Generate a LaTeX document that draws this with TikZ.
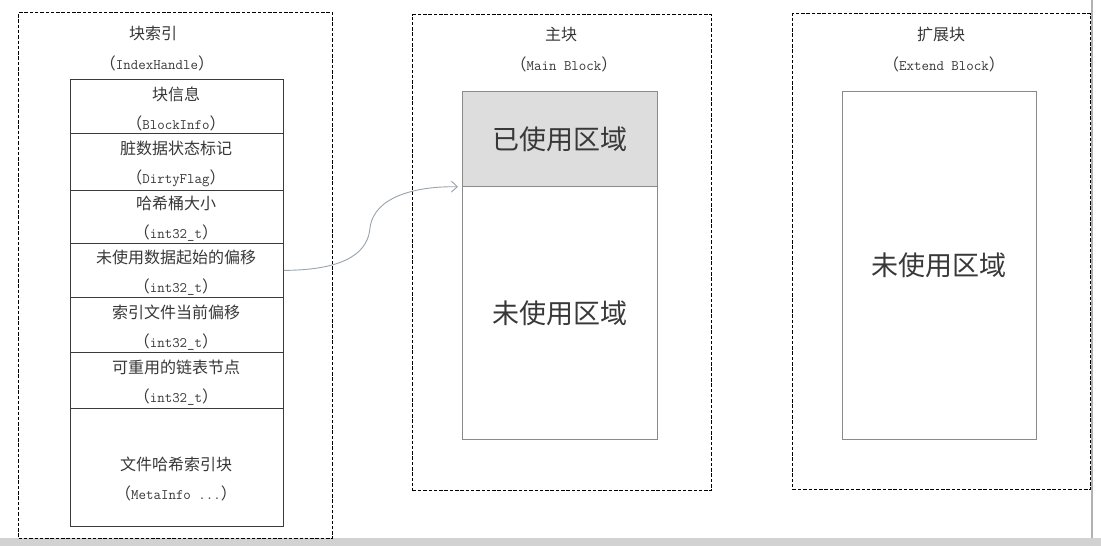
\documentclass[tikz,border=0pt]{standalone}
\usepackage{fontspec}
\newfontfamily\cjk{Noto Sans CJK SC}
\usetikzlibrary{arrows.meta}
\definecolor{txt}{HTML}{383838}
\definecolor{tline}{HTML}{3A3A3A}
\definecolor{iline}{HTML}{8A8A8A}
\definecolor{usedfill}{HTML}{DCDDDC}
\definecolor{arrowc}{HTML}{9AA4AC}
\newcommand\pp[1]{{\cjk （}{\ttfamily\fontsize{14.5}{29}\selectfont #1}{\cjk ）}}
\begin{document}
\begin{tikzpicture}[x=1pt,y=-1pt,
  outerbox/.style={draw=black, dash pattern=on 3.5pt off 1.8pt, line width=1.3pt, anchor=north west, inner sep=0pt},
  title/.style={text=txt, font=\cjk\fontsize{16}{20}\selectfont, inner sep=0pt},
  rowbox/.style={draw=tline, line width=0.8pt, minimum width=213pt, anchor=north west, inner sep=0pt},
  rowtext/.style={inner sep=0pt, align=center, text=txt, font=\cjk\fontsize{16}{29}\selectfont},
  area/.style={draw=iline, line width=0.8pt, minimum width=195pt, anchor=north west, inner sep=0pt},
  bigtext/.style={text=txt, font=\cjk\fontsize{27}{30}\selectfont, inner sep=0pt}]
\useasboundingbox (0,0) rectangle (1101,546);
\fill[white] (0,0) rectangle (1101,546);
% screenshot frame
\fill[gray!35] (0,538) rectangle (1101,546);
\draw[gray!60, line width=1.2pt] (1092,0) -- (1092,538);

% left block: index handle
\node[outerbox, minimum width=314pt, minimum height=526pt] (ibox) at (18,12) {};
\node[title] (ititle) at (153,33) {块索引};
\node[title] (isub) at (157,63) {\pp{IndexHandle}};
\node[rowbox, minimum height=54pt] (r1) at (70,79) {};
\node[rowbox, minimum height=57pt] (r2) at (70,133) {};
\node[rowbox, minimum height=53pt] (r3) at (70,190) {};
\node[rowbox, minimum height=54pt] (r4) at (70,243) {};
\node[rowbox, minimum height=55pt] (r5) at (70,297) {};
\node[rowbox, minimum height=56pt] (r6) at (70,352) {};
\node[rowbox, minimum height=118pt] (r7) at (70,408) {};
\node[rowtext] (r1t) at (176,109) {块信息\\\pp{BlockInfo}};
\node[rowtext] (r2t) at (176,164) {脏数据状态标记\\\pp{DirtyFlag}};
\node[rowtext] (r3t) at (176,219) {哈希桶大小\\\pp{int32\_t}};
\node[rowtext] (r4t) at (176,273) {未使用数据起始的偏移\\\pp{int32\_t}};
\node[rowtext] (r5t) at (176,328) {索引文件当前偏移\\\pp{int32\_t}};
\node[rowtext] (r6t) at (176,383) {可重用的链表节点\\\pp{int32\_t}};
\node[rowtext] (r7t) at (176,479) {文件哈希索引块\\\pp{MetaInfo ...}};

% middle block: main block
\node[outerbox, minimum width=299pt, minimum height=476pt] (mbox) at (412,14) {};
\node[title] (mtitle) at (561,34) {主块};
\node[title] (msub) at (564,64) {\pp{Main Block}};
\node[area, fill=usedfill, minimum height=95pt] (used) at (462,91) {};
\node[area, minimum height=253pt] (unused) at (462,186) {};
\node[bigtext] (usedt) at (used.center) {已使用区域};
\node[bigtext] (unusedt) at (unused.center) {未使用区域};

% right block: extend block
\node[outerbox, minimum width=298pt, minimum height=476pt] (ebox) at (792,13) {};
\node[title] (etitle) at (941,34) {扩展块};
\node[title] (esub) at (944,64) {\pp{Extend Block}};
\node[area, minimum width=194pt, minimum height=348pt] (ext) at (842,91) {};
\node[bigtext] (extt) at (ext.center) {未使用区域};

% connector
\draw[arrowc, line width=0.9pt, -{Straight Barb[length=6pt,width=11pt]}]
  (r4.east) .. controls (350,270) and (368,250) .. (370,228)
  .. controls (374,195) and (420,186) .. ([xshift=-4pt]used.south west);
\end{tikzpicture}
\end{document}
